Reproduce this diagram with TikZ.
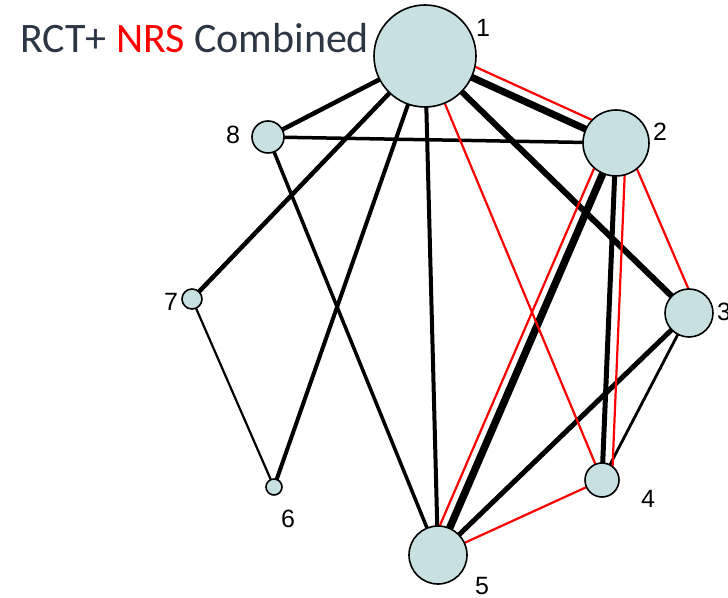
\documentclass[tikz,border=0pt]{standalone}
\usepackage{fontspec}
\setmainfont{Liberation Sans}
\newfontfamily\titlefont{Carlito}
\usetikzlibrary{calc}
\pgfdeclarelayer{edges}
\pgfsetlayers{edges,main}
\definecolor{nodefill}{RGB}{201,224,225}
\definecolor{titlegray}{RGB}{44,54,68}
\definecolor{nrsred}{RGB}{255,0,0}
\tikzset{
  trt/.style={circle, draw=black, line width=1.6pt, fill=nodefill,
              inner sep=0pt, minimum size=#1},
  lbl/.style={font=\fontsize{25}{25}\selectfont, inner sep=0pt},
  rct/.style={draw=black, line width=#1},
  nrs/.style={draw=nrsred, line width=2.2pt},
}
\begin{document}
\begin{tikzpicture}[x=1pt,y=1pt]
\useasboundingbox (0,0) rectangle (728,597);

% title
\node[anchor=base west, inner sep=0pt, text=titlegray,
      font=\titlefont\fontsize{42}{42}\selectfont] (title) at (20,544)
  {RCT+ \textcolor{nrsred}{NRS} Combined};

% treatments
\node[trt=102pt] (n1) at (425,541) {};
\node[trt=66pt]  (n2) at (616,454) {};
\node[trt=48pt]  (n3) at (689,284) {};
\node[trt=34pt]  (n4) at (602,117) {};
\node[trt=58pt]  (n5) at (438,42)  {};
\node[trt=16pt]  (n6) at (274,110) {};
\node[trt=20pt]  (n7) at (192,298) {};
\node[trt=32pt]  (n8) at (268,460) {};

% treatment numbers
\node[lbl] (l1) at (483,569) {1};
\node[lbl] (l2) at (660,465) {2};
\node[lbl] (l3) at (724,285) {3};
\node[lbl] (l4) at (648,98)  {4};
\node[lbl] (l5) at (482,11)  {5};
\node[lbl] (l6) at (288,78)  {6};
\node[lbl] (l7) at (171,295) {7};
\node[lbl] (l8) at (233,462) {8};

\begin{pgfonlayer}{edges}
  % RCT comparisons
  \draw[rct=7pt]   (n1.center) -- (n2.center);
  \draw[rct=6pt]   (n1.center) -- (n3.center);
  \draw[rct=4.5pt] (n1.center) -- (n8.center);
  \draw[rct=4.5pt] (n1.center) -- (n7.center);
  \draw[rct=4pt]   (n1.center) -- (n6.center);
  \draw[rct=4pt]   (n1.center) -- (n5.center);
  \draw[rct=3.5pt] (n8.center) -- (n2.center);
  \draw[rct=3.5pt] (n8.center) -- (n5.center);
  \draw[rct=2.2pt] (n7.center) -- (n6.center);
  \draw[rct=7.5pt] (n2.center) -- (n5.center);
  \draw[rct=5pt]   (n2.center) -- (n4.center);
  \draw[rct=5pt]   (n3.center) -- (n5.center);
  \draw[rct=2.8pt] (n3.center) -- (n4.center);
  % NRS comparisons
  \draw[nrs] ($(n1)!11pt!90:(n2)$) -- ($(n2)!11pt!-90:(n1)$);
  \draw[nrs] ($(n2)!9pt!90:(n3)$)  -- ($(n3)!9pt!-90:(n2)$);
  \draw[nrs] ($(n2)!10pt!-90:(n5)$) -- ($(n5)!10pt!90:(n2)$);
  \draw[nrs] ($(n2)!10pt!90:(n4)$) -- ($(n4)!10pt!-90:(n2)$);
  \draw[nrs] (n1.center) -- (n4.center);
  \draw[nrs] (n5.center) -- (n4.center);
\end{pgfonlayer}
\end{tikzpicture}
\end{document}
